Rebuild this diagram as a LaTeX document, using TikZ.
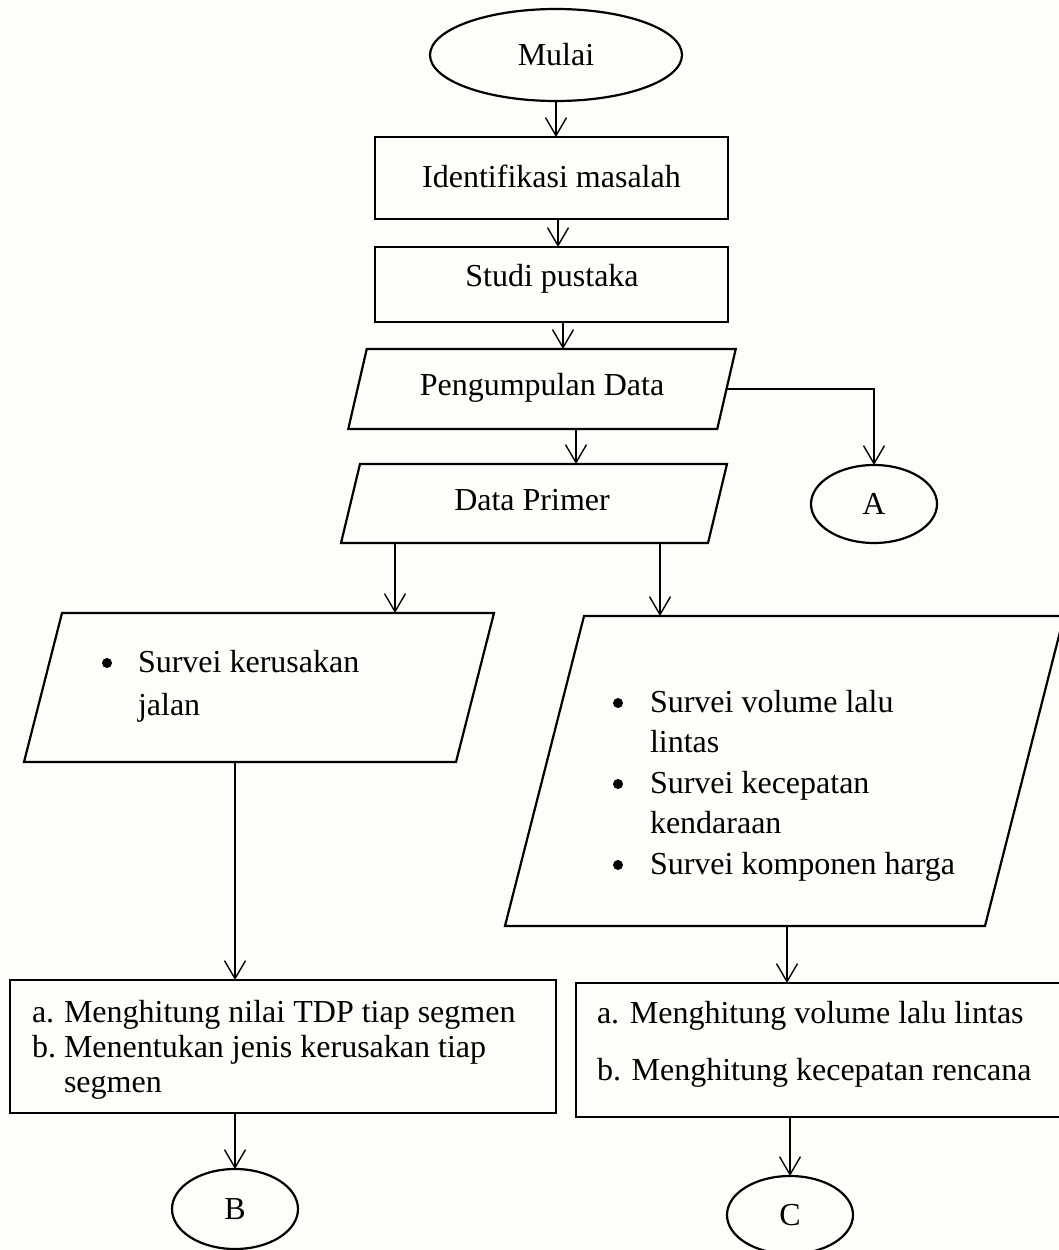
\documentclass[tikz,border=0pt]{standalone}
\usepackage{fontspec}
\setmainfont{Liberation Serif}
\usetikzlibrary{shapes.geometric,arrows.meta}
\definecolor{bgcol}{RGB}{253,253,249}
\begin{document}
\begin{tikzpicture}[x=1pt,y=-1pt,
  shapeline/.style={draw=black, line width=2.2pt, inner sep=0pt, outer sep=0pt},
  ovalbox/.style={shapeline, ellipse, font=\fontsize{32}{38}\selectfont},
  rectbox/.style={shapeline, rectangle},
  slantbox/.style={shapeline, rectangle, xslant=#1},
  txt/.style={inner sep=0pt, outer sep=0pt, font=\fontsize{32}{38}\selectfont},
  dotmark/.style={circle, fill=black, minimum size=10pt, inner sep=0pt, outer sep=0pt},
  arr/.style={draw=black, line width=1.4pt, -{Straight Barb[length=18pt,width=21pt]}}
]
\useasboundingbox (0,0) rectangle (1059,1250);
\fill[bgcol] (0,0) rectangle (1059,1250);
\clip (0,0) rectangle (1059,1250);

% columns for vertical connectors
\coordinate (colA) at (558,0);
\coordinate (colB) at (563,0);
\coordinate (colC) at (576,0);
\coordinate (colD) at (395,0);
\coordinate (colE) at (660,0);
\coordinate (colF) at (235,0);
\coordinate (colG) at (787,0);

% start
\node[ovalbox, minimum width=252pt, minimum height=92pt] (mulai) at (556,55) {Mulai};

% rectangles
\node[rectbox, minimum width=353pt, minimum height=82pt] (ident) at (551.5,178) {};
\node[txt, anchor=base] (identtxt) at (551.5,187) {Identifikasi masalah};
\node[rectbox, minimum width=353pt, minimum height=75pt] (studi) at (551.5,284.5) {};
\node[txt, anchor=base] (studitxt) at (552,286) {Studi pustaka};

% parallelograms
\begin{scope}[shift={(542,389)}]
  \node[slantbox=0.231, minimum width=369pt, minimum height=80pt] (peng) at (0,0) {};
\end{scope}
\node[txt, anchor=base] (pengtxt) at (542,395) {Pengumpulan Data};

\begin{scope}[shift={(534,503.5)}]
  \node[slantbox=0.24, minimum width=367pt, minimum height=79pt] (dp) at (0,0) {};
\end{scope}
\node[txt, anchor=base] (dptxt) at (532,510) {Data Primer};

\node[ovalbox, minimum width=126pt, minimum height=78pt] (conA) at (874,504) {A};

\begin{scope}[shift={(259,687.5)}]
  \node[slantbox=0.255, minimum width=432pt, minimum height=149pt] (lp) at (0,0) {};
\end{scope}
\node[dotmark] (lpb1) at (107,663) {};
\node[txt, anchor=base west] (lpl1) at (138,672) {Survei kerusakan};
\node[txt, anchor=base west] (lpl2) at (138,715) {jalan};

\begin{scope}[shift={(784.5,771)}]
  \node[slantbox=0.255, minimum width=480pt, minimum height=310pt] (rp) at (0,0) {};
\end{scope}
\node[dotmark] (rpb1) at (618,703) {};
\node[dotmark] (rpb2) at (618,784) {};
\node[dotmark] (rpb3) at (618,865) {};
\node[txt, anchor=base west] (rpl1) at (650,712) {Survei volume lalu};
\node[txt, anchor=base west] (rpl2) at (650,752) {lintas};
\node[txt, anchor=base west] (rpl3) at (650,793) {Survei kecepatan};
\node[txt, anchor=base west] (rpl4) at (650,833) {kendaraan};
\node[txt, anchor=base west] (rpl5) at (650,874) {Survei komponen harga};

% bottom boxes
\node[rectbox, minimum width=546pt, minimum height=133pt] (lb) at (283,1046.5) {};
\node[txt, anchor=base west] (lba) at (32,1022) {a.};
\node[txt, anchor=base west] (lbl1) at (64,1022) {Menghitung nilai TDP tiap segmen};
\node[txt, anchor=base west] (lbb) at (32,1057) {b.};
\node[txt, anchor=base west] (lbl2) at (64,1057) {Menentukan jenis kerusakan tiap};
\node[txt, anchor=base west] (lbl3) at (64,1092) {segmen};

\node[rectbox, minimum width=490pt, minimum height=134pt] (rb) at (821,1050) {};
\node[txt, anchor=base west] (rbl1) at (597,1023) {a. Menghitung volume lalu lintas};
\node[txt, anchor=base west] (rbl2) at (597,1080) {b. Menghitung kecepatan rencana};

\node[ovalbox, minimum width=126pt, minimum height=80pt] (conB) at (235,1209) {B};
\node[ovalbox, minimum width=126pt, minimum height=78pt] (conC) at (790,1215) {C};

% connectors
\draw[arr] (mulai.south) -- (mulai.south |- ident.north);
\draw[arr] (ident.south -| colA) -- (studi.north -| colA);
\draw[arr] (studi.south -| colB) -- (peng.north -| colB);
\draw[arr] (peng.south -| colC) -- (dp.north -| colC);
\draw[arr] (peng.east) -| (conA.north);
\draw[arr] (dp.south -| colD) -- (lp.north -| colD);
\draw[arr] (dp.south -| colE) -- (rp.north -| colE);
\draw[arr] (lp.south -| colF) -- (lb.north -| colF);
\draw[arr] (rp.south -| colG) -- (rb.north -| colG);
\draw[arr] (lb.south -| conB.north) -- (conB.north);
\draw[arr] (rb.south -| conC.north) -- (conC.north);
\end{tikzpicture}
\end{document}
